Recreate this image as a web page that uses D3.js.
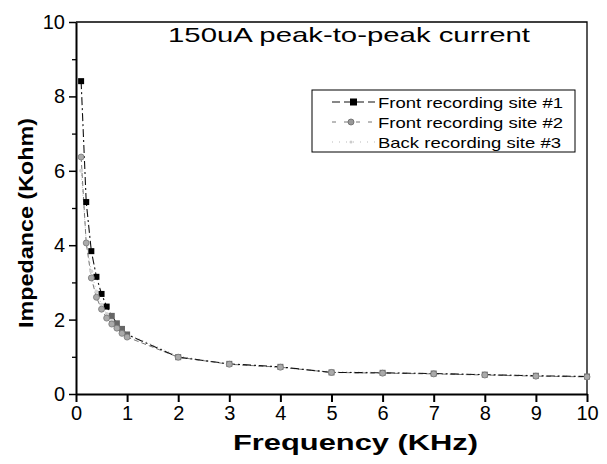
<!DOCTYPE html>
<html>
<head>
<meta charset="utf-8">
<script src="https://cdn.jsdelivr.net/npm/d3@7"></script>
<style>
  body { margin: 0; background: #fff; }
  text { font-family: "Liberation Sans", Arial, sans-serif; fill: #000; }
</style>
</head>
<body>
<div id="chart"></div>
<script>
// frequency points (KHz)
const freq = [0.1, 0.2, 0.3, 0.4, 0.5, 0.6, 0.7, 0.8, 0.9, 1, 2, 3, 4, 5, 6, 7, 8, 9, 10];

// impedance (Kohm) per recording site
const site1 = [8.41, 5.16, 3.84, 3.15, 2.69, 2.35, 2.1, 1.9, 1.75, 1.6, 0.99, 0.81, 0.73, 0.58, 0.57, 0.55, 0.52, 0.49, 0.47];
const site2 = [6.37, 4.06, 3.12, 2.6, 2.28, 2.04, 1.88, 1.77, 1.63, 1.53, 0.99, 0.8, 0.72, 0.58, 0.56, 0.54, 0.51, 0.48, 0.46];
const site3 = [6.0, 4.1, 3.3, 2.75, 2.4, 2.15, 1.98, 1.85, 1.72, 1.62, 1.02, 0.8, 0.71, 0.6, 0.58, 0.55, 0.53, 0.5, 0.47];

const seriesNames = ["Front recording site #1", "Front recording site #2", "Back recording site #3"];
const xTicks = [0, 1, 2, 3, 4, 5, 6, 7, 8, 9, 10];
const yTicks = [0, 2, 4, 6, 8, 10];
const yMinor = [1, 3, 5, 7, 9];

const width = 607, height = 464;

var svg = d3.select("#chart").append("svg")
    .attr("width", width)
    .attr("height", height);

var x = d3.scaleLinear().domain([0, 10]).range([76, 587]);
var y = d3.scaleLinear().domain([0, 10]).range([394, 22]);

// frame (top + right thin)
svg.append("path")
    .attr("d", `M${x(0)},${y(10)} H${x(10)} V${y(0)}`)
    .attr("fill", "none").attr("stroke", "#000").attr("stroke-width", 1.3);

// x axis
var gx = svg.append("g").attr("transform", `translate(0,${y(0)})`)
    .call(d3.axisBottom(x).tickValues(xTicks).tickSize(8).tickSizeOuter(0).tickFormat(d3.format("d")));
gx.select(".domain").attr("stroke-width", 2);
gx.selectAll(".tick line").attr("stroke-width", 2);
gx.selectAll(".tick text").attr("font-size", 20).attr("y", 12).attr("font-family", "Liberation Sans, Arial");

// y axis
var gy = svg.append("g").attr("transform", `translate(${x(0)},0)`)
    .call(d3.axisLeft(y).tickValues(yTicks).tickSize(7).tickSizeOuter(0).tickFormat(d3.format("d")));
gy.select(".domain").attr("stroke-width", 2);
gy.selectAll(".tick line").attr("stroke-width", 1.5);
gy.selectAll(".tick text").attr("font-size", 20).attr("x", -11).attr("font-family", "Liberation Sans, Arial");

svg.append("g").attr("transform", `translate(${x(0)},0)`)
    .call(d3.axisLeft(y).tickValues(yMinor).tickSize(4).tickFormat(""))
    .call(g => g.select(".domain").remove())
    .selectAll(".tick line").attr("stroke-width", 1.3);

// series
var series = [
    {vals: site1, stroke: "#111", dash: "8,3,2,3", sw: 1.1},
    {vals: site2, stroke: "#777", dash: "5,3", sw: 1},
    {vals: site3, stroke: "#bbb", dash: "1,3", sw: 1}
];

var line = d3.line().x(d => x(d[0])).y(d => y(d[1]));

series.slice().reverse().forEach(function(s) {
    var pts = freq.map((f, i) => [f, s.vals[i]]);
    svg.append("path")
        .datum(pts)
        .attr("d", line)
        .attr("fill", "none")
        .attr("stroke", s.stroke)
        .attr("stroke-width", s.sw)
        .attr("stroke-dasharray", s.dash);
});

// markers: site3 faint, site1 squares, site2 grey circles on top
svg.selectAll(".m3").data(freq.map((f, i) => [f, site3[i]])).enter()
    .append("circle")
    .attr("cx", d => x(d[0])).attr("cy", d => y(d[1])).attr("r", 2)
    .attr("fill", "#d4d4d4");

svg.selectAll(".m1").data(freq.map((f, i) => [f, site1[i]])).enter()
    .append("rect")
    .attr("x", d => x(d[0]) - 3).attr("y", d => y(d[1]) - 3)
    .attr("width", 6).attr("height", 6)
    .attr("fill", (d, i) => i < 6 ? "#000" : "#666");

svg.selectAll(".m2").data(freq.map((f, i) => [f, site2[i]])).enter()
    .append("circle")
    .attr("cx", d => x(d[0])).attr("cy", d => y(d[1])).attr("r", 3)
    .attr("fill", "#aaa").attr("stroke", "#777").attr("stroke-width", 0.8);

// title
svg.append("text")
    .attr("x", 168).attr("y", 42)
    .attr("font-size", 21)
    .attr("textLength", 362).attr("lengthAdjust", "spacingAndGlyphs")
    .text("150uA peak-to-peak current");

// legend
var leg = svg.append("g");
leg.append("rect")
    .attr("x", 312).attr("y", 90).attr("width", 263).attr("height", 62)
    .attr("fill", "#fff").attr("stroke", "#000").attr("stroke-width", 1);

var legLens = [185, 185, 183];
seriesNames.forEach(function(name, i) {
    var cy = 102 + i * 20;
    leg.append("line")
        .attr("x1", 332).attr("x2", 375).attr("y1", cy).attr("y2", cy)
        .attr("stroke", series[i].stroke).attr("stroke-width", series[i].sw)
        .attr("stroke-dasharray", i == 0 ? "8,4" : (i == 1 ? "4,8" : "1,6"));
    if (i == 0) {
        leg.append("rect").attr("x", 350).attr("y", cy - 3.5).attr("width", 7).attr("height", 7)
            .attr("fill", "#000");
    } else if (i == 1) {
        leg.append("circle").attr("cx", 351).attr("cy", cy).attr("r", 3)
            .attr("fill", "#999").attr("stroke", "#666").attr("stroke-width", 0.8);
    } else {
        leg.append("circle").attr("cx", 351).attr("cy", cy).attr("r", 1.5).attr("fill", "#ccc");
    }
    leg.append("text")
        .attr("x", 378).attr("y", cy + 5.5)
        .attr("font-size", 15)
        .attr("textLength", legLens[i]).attr("lengthAdjust", "spacingAndGlyphs")
        .text(name);
});

// axis titles
svg.append("text")
    .attr("x", 233).attr("y", 450)
    .attr("font-size", 22).attr("font-weight", "bold")
    .attr("textLength", 245).attr("lengthAdjust", "spacingAndGlyphs")
    .text("Frequency (KHz)");

svg.append("text")
    .attr("transform", "translate(33,328) rotate(-90)")
    .attr("x", 0).attr("y", 0)
    .attr("font-size", 21).attr("font-weight", "bold")
    .attr("textLength", 210).attr("lengthAdjust", "spacingAndGlyphs")
    .text("Impedance (Kohm)");
</script>
</body>
</html>
